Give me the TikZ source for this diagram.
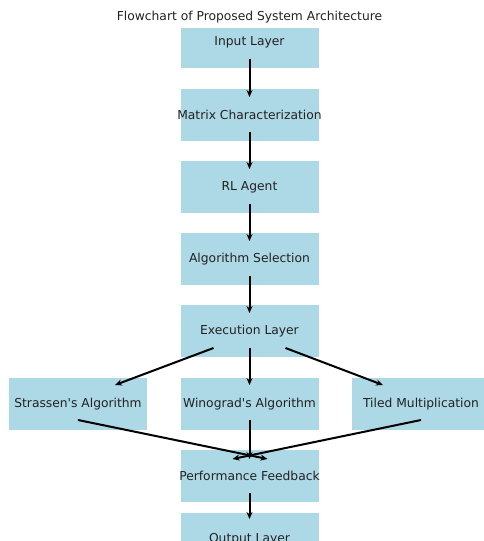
\documentclass[tikz,border=0pt]{standalone}
\usepackage{fontspec}
\setmainfont{DejaVu Sans}[Ligatures=TeXOff]
\usepackage{xcolor}
\usepackage{tikz}
\usetikzlibrary{arrows.meta}

\definecolor{boxblue}{RGB}{173,216,230}
\definecolor{textgray}{RGB}{34,34,34}

\begin{document}
\begin{tikzpicture}[
    x=1pt, y=-1pt,
    font=\fontsize{12.3}{14}\selectfont, text=textgray,
    >={Stealth[length=7pt, width=6pt]}, line width=2pt,
    layer/.style={fill=boxblue, minimum width=138pt, minimum height=52pt, inner sep=0pt}
]

\useasboundingbox (0,0) rectangle (484,541);
\clip (0,0) rectangle (484,541);

\node (title) at (249.5, 17) {Flowchart of Proposed System Architecture};

\begin{scope}
\clip (0,28) rectangle (484,541);
\node[layer] (input) at (249.5, 42) {Input Layer};
\end{scope}

\node[layer] (matrix) at (249.5, 115) {\makebox[138pt]{Matrix Characterization}};
\node[layer] (agent)  at (249.5, 187) {RL Agent};
\node[layer] (select) at (249.5, 259) {Algorithm Selection};
\node[layer] (exec)   at (249.5, 331) {Execution Layer};

\node[layer] (strassen) at (78, 404)    {Strassen's Algorithm};
\node[layer] (winograd) at (249.5, 404) {Winograd's Algorithm};
\node[layer] (tiled)    at (421, 404)   {Tiled Multiplication};

\node[layer] (perf)   at (249.5, 476) {\makebox[138pt]{Performance Feedback}};
\node[layer] (output) at (249.5, 539) {Output Layer};

\draw[->] ([yshift=-17pt]input.center)  -- ([yshift=18pt]matrix.center);
\draw[->] ([yshift=-17pt]matrix.center) -- ([yshift=18pt]agent.center);
\draw[->] ([yshift=-17pt]agent.center)  -- ([yshift=18pt]select.center);
\draw[->] ([yshift=-17pt]select.center) -- ([yshift=18pt]exec.center);

\draw[->] ([xshift=-36pt, yshift=-17pt]exec.center) -- ([xshift=37pt, yshift=19pt]strassen.center);
\draw[->] ([yshift=-17pt]exec.center) -- ([yshift=19pt]winograd.center);
\draw[->] ([xshift=36pt, yshift=-17pt]exec.center) -- ([xshift=-38pt, yshift=19pt]tiled.center);

\draw[->] ([yshift=-16pt]strassen.center) -- ([xshift=18pt, yshift=17pt]perf.center);
\draw[->] ([yshift=-16pt]winograd.center) -- ([yshift=17pt]perf.center);
\draw[->] ([yshift=-16pt]tiled.center)    -- ([xshift=-17pt, yshift=17pt]perf.center);

\draw[->] ([yshift=-17pt]perf.center) -- ([yshift=20pt]output.center);

\end{tikzpicture}
\end{document}
